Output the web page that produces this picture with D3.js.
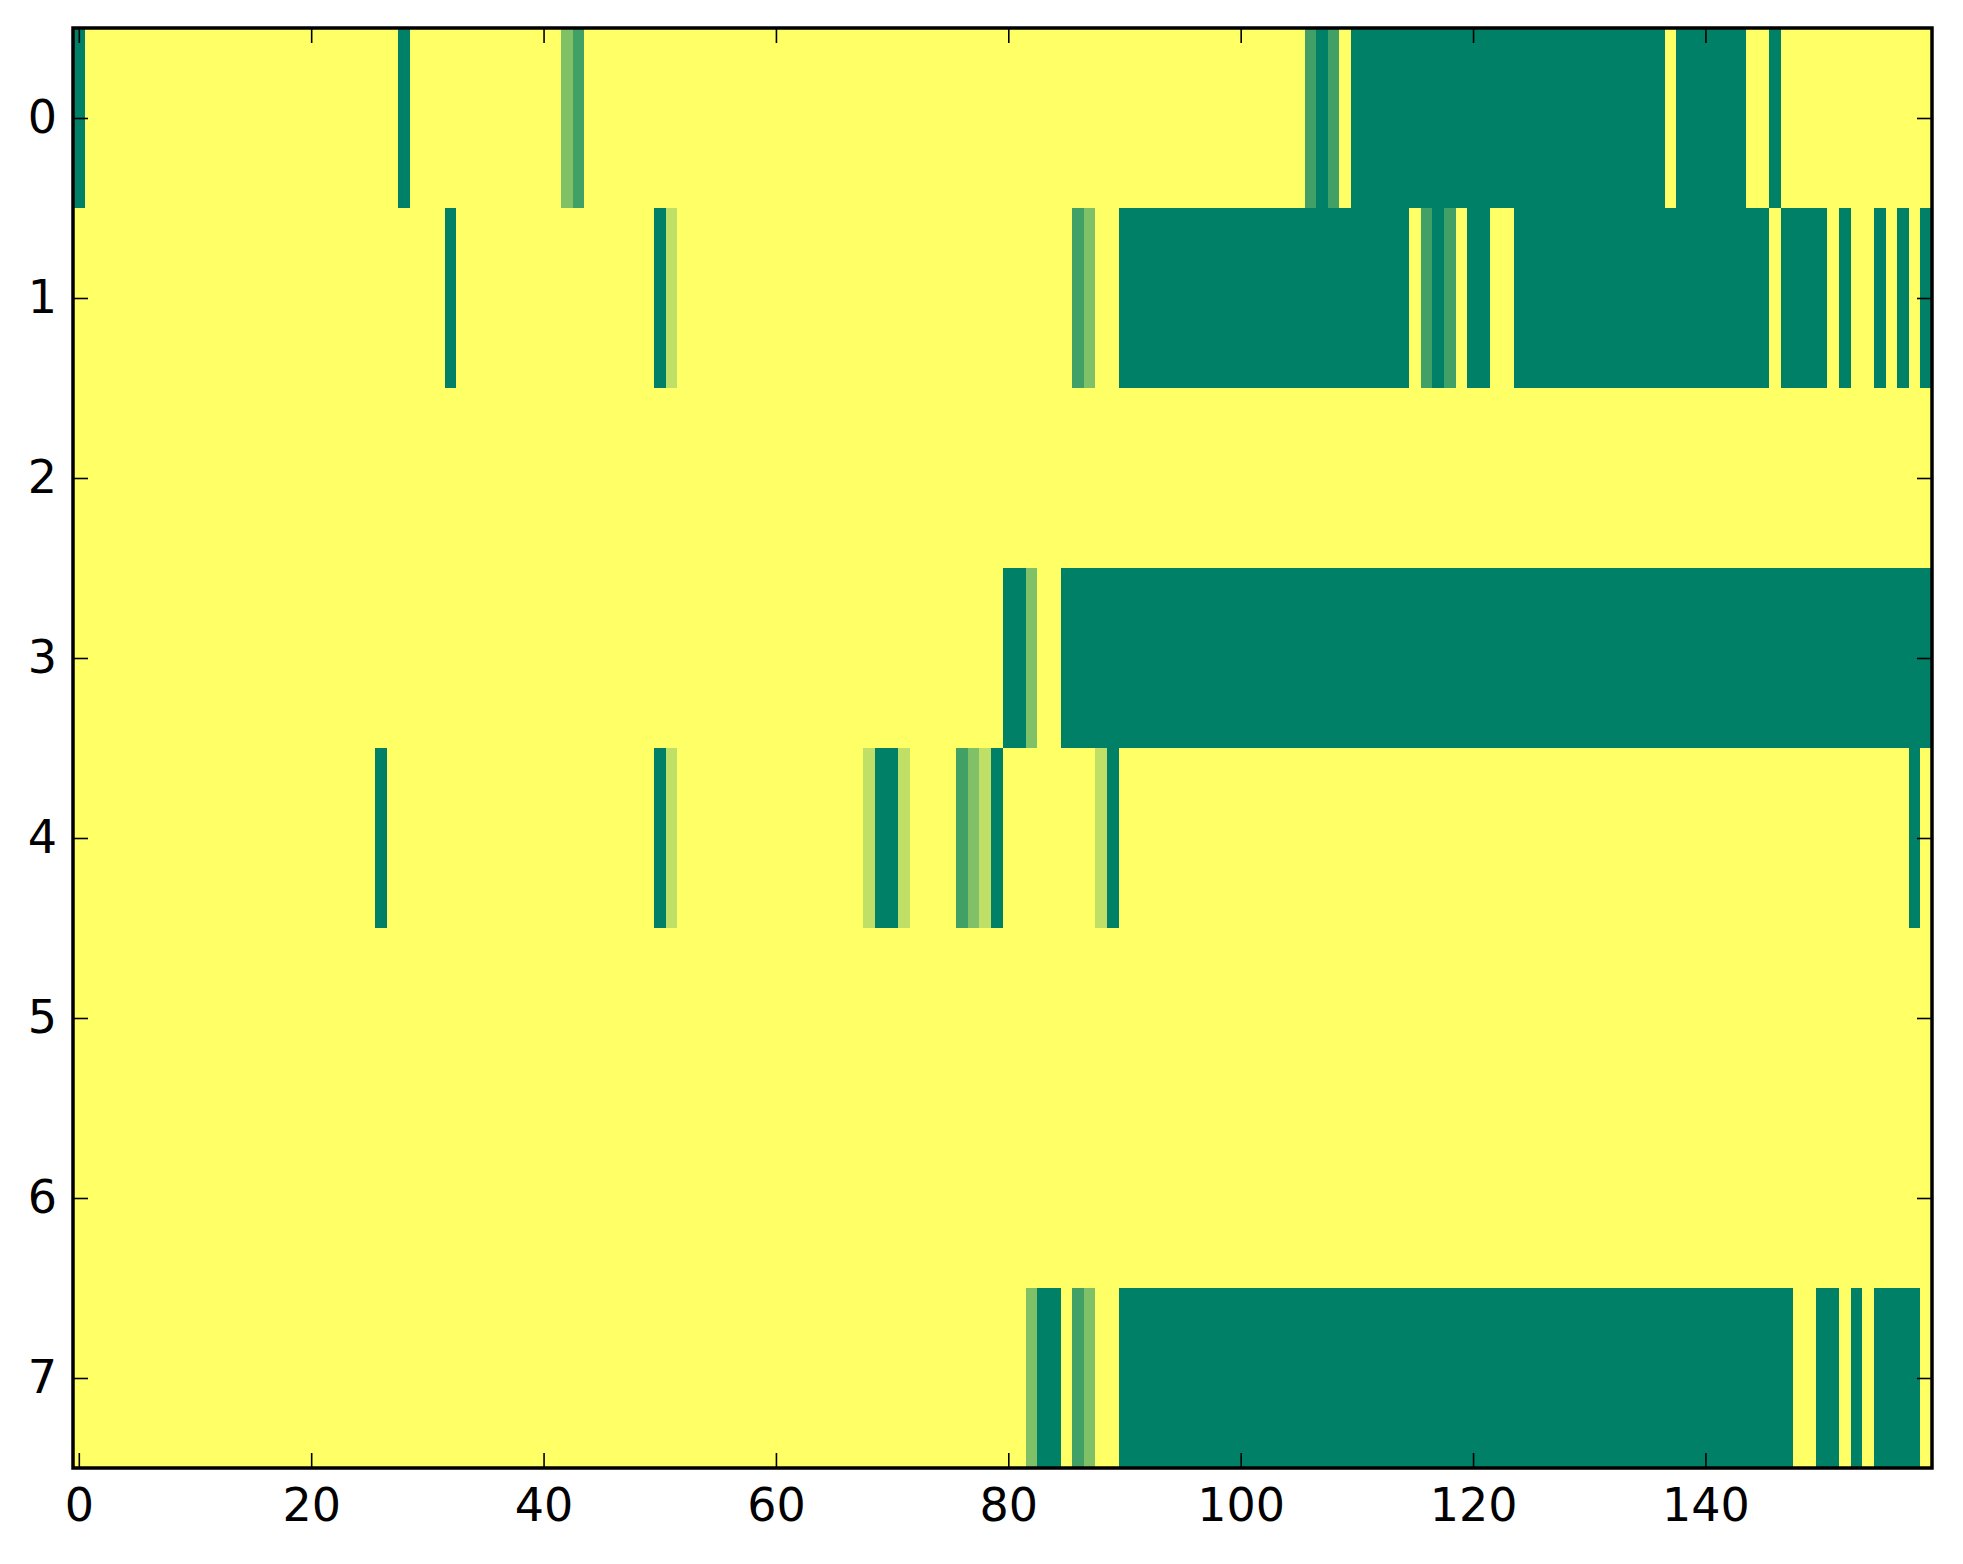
<!DOCTYPE html>
<html>
<head>
<meta charset="utf-8">
<script src="https://cdn.jsdelivr.net/npm/d3@7"></script>
<style>
  html, body { margin: 0; padding: 0; background: #ffffff; }
  svg { display: block; }
  .tick text { font-family: "DejaVu Sans", sans-serif; font-size: 46px; fill: #000; }
</style>
</head>
<body>
<svg id="chart" width="1963" height="1564"></svg>
<script>
// ---- data: each row as runs of [level, count]; level/4 is the cell value (0..1) ----
const rowLabels = [0, 1, 2, 3, 4, 5, 6, 7];
const nCols = 160;
const row0 = [[4,1],[0,27],[4,1],[0,13],[2,1],[3,1],[0,62],[3,1],[4,1],[3,1],[0,1],[4,27],[0,1],[4,6],[0,2],[4,1],[0,13]];
const row1 = [[0,32],[4,1],[0,17],[4,1],[1,1],[0,34],[3,1],[2,1],[0,2],[4,25],[0,1],[3,1],[4,1],[3,1],[0,1],[4,2],[0,2],[4,22],[0,1],[4,4],[0,1],[4,1],[0,2],[4,1],[0,1],[4,1],[0,1],[4,1]];
const row2 = [[0,160]];
const row3 = [[0,80],[4,2],[2,1],[0,2],[4,75]];
const row4 = [[0,26],[4,1],[0,23],[4,1],[1,1],[0,16],[1,1],[4,2],[1,1],[0,4],[3,1],[2,1],[1,1],[4,1],[0,8],[1,1],[4,1],[0,68],[4,1],[0,1]];
const row5 = [[0,160]];
const row6 = [[0,160]];
const row7 = [[0,82],[2,1],[4,2],[0,1],[3,1],[2,1],[0,2],[4,58],[0,2],[4,2],[0,1],[4,1],[0,1],[4,4],[0,1]];
const rowRuns = [row0, row1, row2, row3, row4, row5, row6, row7];
const xTicks = [0, 20, 40, 60, 80, 100, 120, 140];
const yTicks = [0, 1, 2, 3, 4, 5, 6, 7];

// expand runs into cells
const cells = [];
rowRuns.forEach((runs, r) => {
  let c = 0;
  runs.forEach(([lvl, cnt]) => {
    for (let k = 0; k < cnt; k++) { cells.push({row: r, col: c, v: lvl / 4}); c++; }
  });
});

// ---- layout ----
const L = 73, R = 1932, T = 28, B = 1468;
const svg = d3.select("#chart");
const x = d3.scaleLinear().domain([-0.5, nCols - 0.5]).range([L, R]);
const y = d3.scaleLinear().domain([-0.5, rowLabels.length - 0.5]).range([T, B]);
// summer_r colormap
const color = d3.scaleLinear().domain([0, 1]).range(["#ffff66", "#008066"]);

svg.append("g")
  .attr("shape-rendering", "crispEdges")
  .selectAll("rect").data(cells).join("rect")
  .attr("x", d => x(d.col - 0.5))
  .attr("y", d => y(d.row - 0.5))
  .attr("width", d => x(d.col + 0.5) - x(d.col - 0.5) + 0.6)
  .attr("height", d => y(d.row + 0.5) - y(d.row - 0.5) + 0.6)
  .attr("fill", d => color(d.v));

const tickLen = 15;
function styleAxis(g) {
  g.select(".domain").remove();
  g.selectAll(".tick line").attr("stroke", "#000").attr("stroke-width", 1.6);
}
svg.append("g").attr("transform", `translate(0,${B})`)
  .call(d3.axisBottom(x).tickValues(xTicks).tickSizeInner(-tickLen).tickSizeOuter(0).tickPadding(20))
  .call(styleAxis);
svg.append("g").attr("transform", `translate(0,${T})`)
  .call(d3.axisTop(x).tickValues(xTicks).tickSizeInner(-tickLen).tickSizeOuter(0).tickFormat(""))
  .call(styleAxis);
svg.append("g").attr("transform", `translate(${L},0)`)
  .call(d3.axisLeft(y).tickValues(yTicks).tickSizeInner(-tickLen).tickSizeOuter(0).tickPadding(16))
  .call(styleAxis);
svg.append("g").attr("transform", `translate(${R},0)`)
  .call(d3.axisRight(y).tickValues(yTicks).tickSizeInner(-tickLen).tickSizeOuter(0).tickFormat(""))
  .call(styleAxis);

svg.selectAll(".tick text").attr("font-family", "DejaVu Sans").attr("font-size", 46);

// frame
svg.append("rect")
  .attr("x", L).attr("y", T).attr("width", R - L).attr("height", B - T)
  .attr("fill", "none").attr("stroke", "#000").attr("stroke-width", 3.5);
</script>
</body>
</html>
